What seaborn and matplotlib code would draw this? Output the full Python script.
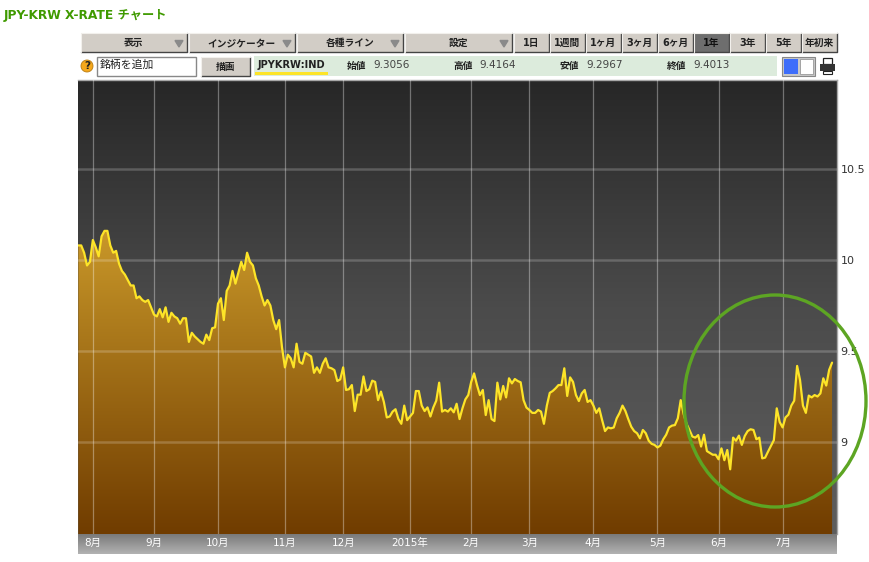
"""JPY-KRW one year chart page, toolbar and area chart."""
import numpy as np
import pandas as pd
import matplotlib.pyplot as plt
from matplotlib.colors import LinearSegmentedColormap
from matplotlib.patches import Ellipse, Rectangle, Circle
import seaborn as sns

# daily closes, one value per trading day
rate = [
    10.08, 10.08, 10.04, 9.97, 9.99, 10.11, 10.07, 10.02, 10.13, 10.16,
    10.16, 10.08, 10.04, 10.05, 9.98, 9.94, 9.92, 9.89, 9.86, 9.86,
    9.79, 9.80, 9.78, 9.77, 9.78, 9.74, 9.70, 9.69, 9.73, 9.685,
    9.74, 9.66, 9.71, 9.69, 9.68, 9.65, 9.68, 9.68, 9.55, 9.60,
    9.58, 9.565, 9.55, 9.54, 9.59, 9.56, 9.625, 9.63, 9.76, 9.79,
    9.67, 9.83, 9.86, 9.94, 9.87, 9.93, 9.99, 9.945, 10.04, 9.99,
    9.97, 9.90, 9.86, 9.80, 9.75, 9.78, 9.75, 9.67, 9.62, 9.67,
    9.52, 9.41, 9.48, 9.46, 9.41, 9.54, 9.44, 9.43, 9.49, 9.48,
    9.47, 9.38, 9.41, 9.38, 9.43, 9.46, 9.41, 9.405, 9.395, 9.335,
    9.344, 9.41, 9.286, 9.29, 9.313, 9.17, 9.26, 9.26, 9.36, 9.28,
    9.29, 9.337, 9.33, 9.23, 9.277, 9.22, 9.135, 9.14, 9.167, 9.18,
    9.126, 9.10, 9.20, 9.12, 9.14, 9.16, 9.28, 9.28, 9.20, 9.17,
    9.19, 9.14, 9.19, 9.227, 9.326, 9.167, 9.176, 9.167, 9.185, 9.163,
    9.21, 9.126, 9.185, 9.234, 9.258, 9.33, 9.377, 9.313, 9.258, 9.286,
    9.148, 9.23, 9.126, 9.115, 9.326, 9.234, 9.308, 9.245, 9.35, 9.322,
    9.346, 9.335, 9.328, 9.23, 9.189, 9.176, 9.16, 9.16, 9.176, 9.167,
    9.10, 9.20, 9.27, 9.28, 9.295, 9.313, 9.313, 9.405, 9.253, 9.355,
    9.33, 9.258, 9.225, 9.267, 9.286, 9.22, 9.23, 9.20, 9.16, 9.185,
    9.12, 9.06, 9.08, 9.075, 9.08, 9.13, 9.16, 9.20, 9.17, 9.125,
    9.084, 9.06, 9.048, 9.02, 9.066, 9.048, 9.007, 8.99, 8.984, 8.97,
    8.98, 9.015, 9.04, 9.08, 9.09, 9.093, 9.13, 9.23, 9.154, 9.10,
    9.066, 9.03, 9.024, 9.038, 8.975, 9.04, 8.95, 8.94, 8.93, 8.93,
    8.905, 8.965, 8.90, 8.956, 8.85, 9.024, 9.007, 9.035, 8.984, 9.033,
    9.06, 9.07, 9.066, 9.015, 9.024, 8.91, 8.914, 8.947, 8.978, 9.01,
    9.185, 9.11, 9.08, 9.135, 9.15, 9.20, 9.227, 9.418, 9.34, 9.20,
    9.16, 9.255, 9.245, 9.258, 9.25, 9.267, 9.35, 9.31, 9.396, 9.436,
]
month_days = [5, 26, 48, 71, 91, 114, 135, 155, 177, 199, 220, 242]
month_labels = ["8月", "9月", "10月", "11月", "12月", "2015年", "2月", "3月",
                "4月", "5月", "6月", "7月"]
y_ticks = [9, 9.5, 10, 10.5]
y_tick_labels = ["9", "9.5", "10", "10.5"]

title = "JPY-KRW X-RATE チャート"
menu_labels = ["表示", "インジケーター", "各種ライン", "設定"]
range_labels = ["1日", "1週間", "1ヶ月", "3ヶ月", "6ヶ月", "1年", "3年", "5年", "年初来"]
quote_labels = ["始値", "高値", "安値", "終値"]
quote_values = ["9.3056", "9.4164", "9.2967", "9.4013"]

W, H = 870, 562
FONT = ["DejaVu Sans", "Noto Sans CJK JP"]

sns.set_theme(style="white")
plt.rcParams["font.family"] = FONT


def px_axes(fig, x0, y0, x1, y1, **kw):
    """Axes placed by pixel box, y measured from the top of the image."""
    return fig.add_axes([x0 / W, 1 - y1 / H, (x1 - x0) / W, (y1 - y0) / H], **kw)


def button(ui, x0, x1, y0, y1, label, face="#d2cdc6", color="#222222", arrow=False):
    ui.add_patch(Rectangle((x0, y0), x1 - x0, y1 - y0, facecolor=face,
                           edgecolor="none"))
    ui.plot([x0, x1, x1], [y1, y1, y0], color="#444444", lw=1)
    ui.plot([x0, x0, x1], [y1, y0, y0], color="#f2f0ec", lw=0.8)
    ui.text((x0 + x1) / 2, (y0 + y1) / 2 + 0.5, label, ha="center", va="center",
            fontsize=7, color=color, fontweight="bold")
    if arrow:
        ui.fill([x1 - 12, x1 - 4, x1 - 8], [40.5, 40.5, 47], color="#8a8a8a")


fig = plt.figure(figsize=(W / 100, H / 100), dpi=100, facecolor="white")

# grey strip under the chart holding the month labels
band = px_axes(fig, 78, 534, 837, 554, zorder=0)
band.imshow(np.linspace(0, 1, 50)[:, None], aspect="auto", extent=(0, 1, 0, 1),
            origin="upper",
            cmap=LinearSegmentedColormap.from_list("band", ["#7a7a7a", "#b2b2b2"]))
band.axis("off")

# --- Chart ---
ymin, ymax = 8.4945, 10.989
xmin, xmax = -0.1, 260.7
days = np.arange(len(rate))
df = pd.DataFrame({"day": days, "rate": rate})

ax = px_axes(fig, 78, 80, 837, 534, zorder=1)
bg_cmap = LinearSegmentedColormap.from_list(
    "bg", [(0, "#272727"), (0.5, "#4b4b4b"), (1, "#5e5e5e")])
ax.imshow(np.linspace(0, 1, 256)[:, None], aspect="auto", zorder=0,
          extent=(xmin, xmax, ymin, ymax), origin="upper", cmap=bg_cmap)

area = ax.fill_between(days, rate, ymin, facecolor="none", edgecolor="none")
gradient = ax.imshow(np.linspace(0, 1, 256)[:, None], aspect="auto", zorder=1,
                     extent=(xmin, xmax, ymin, 10.2), origin="upper",
                     cmap=LinearSegmentedColormap.from_list("fill", ["#cb9a2a", "#703c00"]))
gradient.set_clip_path(area.get_paths()[0], transform=ax.transData)

sns.lineplot(data=df, x="day", y="rate", ax=ax, color="#fde428", lw=1.6, zorder=4,
             errorbar=None)

ax.set_xlim(xmin, xmax)
ax.set_ylim(ymin, ymax)
ax.set_xticks(month_days)
ax.set_xticklabels(month_labels, color="white", fontsize=7.5)
ax.set_yticks(y_ticks)
ax.set_yticklabels(y_tick_labels, color="#333333", fontsize=8)
ax.yaxis.tick_right()
ax.tick_params(axis="x", length=0, pad=3)
ax.tick_params(axis="y", length=0, pad=2.5)
ax.set_xlabel("")
ax.set_ylabel("")
ax.set_axisbelow(False)
ax.grid(True, axis="x", color="white", alpha=0.35, lw=0.9, zorder=2)
ax.grid(True, axis="y", color="white", alpha=0.2, lw=1.8, zorder=2)
for name, side in ax.spines.items():
    side.set_visible(name in ("top", "right"))
    side.set_color("#a8a8a8")
    side.set_linewidth(1)

# --- Page furniture in image pixels ---
ui = px_axes(fig, 0, 0, W, H, zorder=2)
ui.set_xlim(0, W)
ui.set_ylim(H, 0)
ui.axis("off")

ui.text(4, 15, title, fontsize=8.8, fontweight="bold", color="#3f9a00", va="center")

menu_x = [(81, 187), (189, 295), (297, 403), (405, 512)]
for (x0, x1), label in zip(menu_x, menu_labels):
    button(ui, x0, x1, 33, 52, label, arrow=True)

range_x = [(514, 549), (550, 585), (586, 621), (622, 657), (658, 693),
           (694, 729), (730, 765), (766, 801), (802, 837)]
for (x0, x1), label in zip(range_x, range_labels):
    if label == "1年":
        button(ui, x0, x1, 33, 52, label, face="#6e6e6e", color="#111111")
    else:
        button(ui, x0, x1, 33, 52, label)

# second row
ui.add_patch(Circle((87, 66), 6, facecolor="#f5a81c", edgecolor="#b87a10", lw=0.6))
ui.text(87, 66, "?", ha="center", va="center", fontsize=7.5, fontweight="bold",
        color="#222222")
ui.add_patch(Rectangle((97.5, 56.5), 99, 19, facecolor="white", edgecolor="#888888", lw=1))
ui.text(100, 65, "銘柄を追加", fontsize=7.8, va="center", color="#222222")
button(ui, 201, 250, 57, 76, "描画")

ui.add_patch(Rectangle((254, 56), 523, 20, facecolor="#dcebdc", edgecolor="none"))
ui.text(258, 65, "JPYKRW:IND", fontsize=7.1, fontweight="bold", va="center",
        color="#222222")
ui.add_patch(Rectangle((255, 72), 73, 2.5, facecolor="#fde428", edgecolor="none"))
for x, label, value in zip([347, 453, 560, 667], quote_labels, quote_values):
    ui.text(x, 65.5, label, fontsize=7, fontweight="bold", va="center", color="#222222")
    ui.text(x + 26, 65.5, value, fontsize=7.5, va="center", color="#444444")

# chart colour toggle and printer icon
ui.add_patch(Rectangle((782, 57), 33, 19, facecolor="#c8c8c8", edgecolor="#888888", lw=0.8))
ui.add_patch(Rectangle((784, 59), 14, 15, facecolor="#3d6dfa", edgecolor="none"))
ui.add_patch(Rectangle((800, 59), 13, 15, facecolor="white", edgecolor="#999999", lw=0.6))
ui.add_patch(Rectangle((823, 58), 9, 6, facecolor="white", edgecolor="#222222", lw=0.9))
ui.add_patch(Rectangle((820, 64), 15, 7, facecolor="#333333", edgecolor="none"))
ui.add_patch(Rectangle((823, 71), 9, 3, facecolor="white", edgecolor="#222222", lw=0.8))

# hand drawn green ring over the last two months
ui.add_patch(Ellipse((775, 401), 182, 212, facecolor="none", edgecolor="#5da523",
                     lw=2.4, zorder=5))

plt.savefig("out.png", dpi=100)
plt.close()
